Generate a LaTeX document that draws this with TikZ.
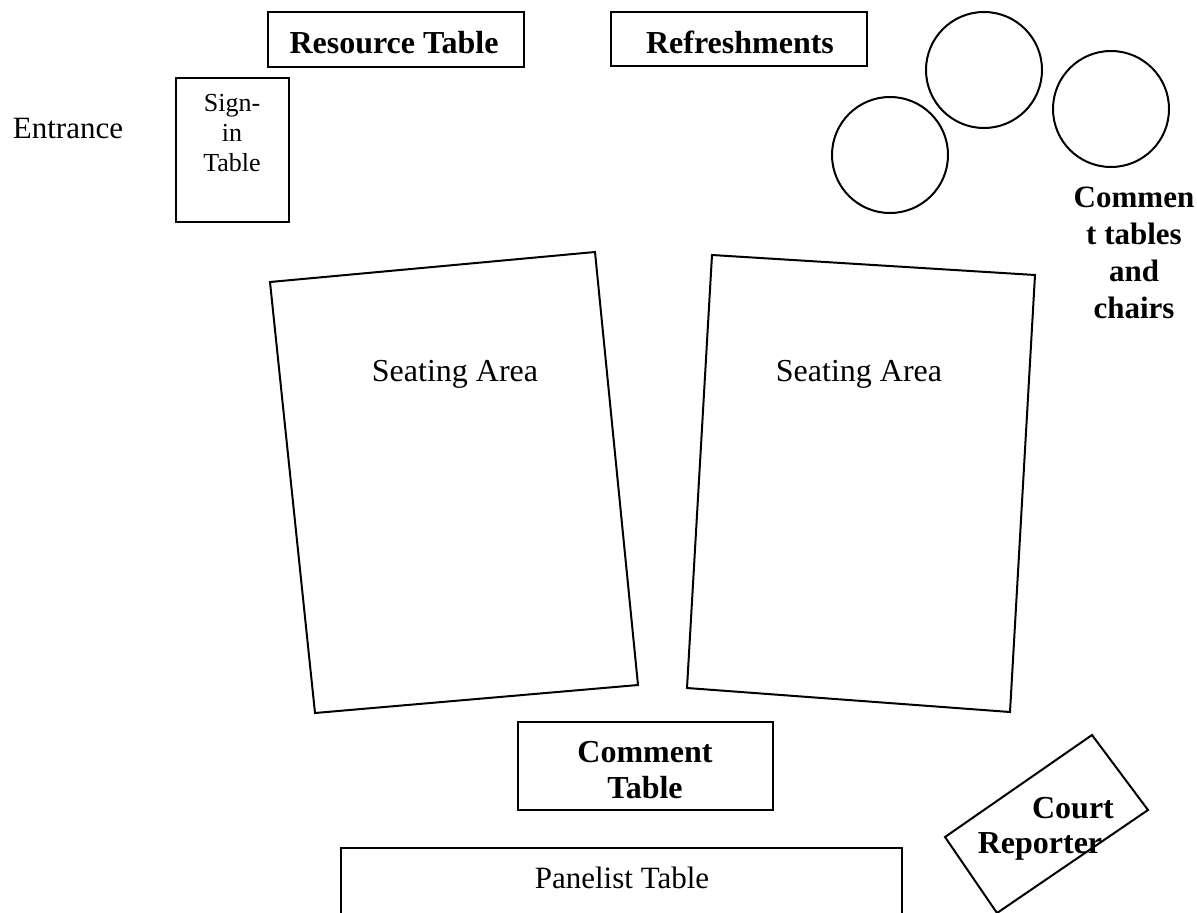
\documentclass[tikz,border=0pt]{standalone}
\usepackage{fontspec}
\setmainfont{Liberation Serif}
\begin{document}
\begin{tikzpicture}[x=1pt,y=-1pt,
  wall/.style={draw=black, line width=2pt, line join=miter},
  plain/.style={inner sep=0pt, font=\fontsize{31}{37}\selectfont},
  heavy/.style={inner sep=0pt, font=\fontsize{32}{40}\selectfont\bfseries},
  small/.style={inner sep=0pt, align=center, font=\fontsize{26}{30}\selectfont}]
\useasboundingbox (0,0) rectangle (1197,913);
\fill[white] (0,0) rectangle (1197,913);

% Entrance
\node[plain, anchor=base] (entrance) at (68,138) {Entrance};

% Sign-in table
\draw[wall] (176,78) rectangle (289,222);
\node[small, anchor=north] (signin) at (232,94) {Sign-\\in\\Table};

% Resource table
\draw[wall] (268,12) rectangle (524,67);
\node[heavy, anchor=base] (resource) at (394,53) {Resource Table};

% Refreshments
\draw[wall] (611,12) rectangle (867,66);
\node[heavy, anchor=base] (refresh) at (740,53) {Refreshments};

% Comment tables (circles)
\draw[wall] (890,155) circle[radius=58];
\draw[wall] (984,70) circle[radius=58];
\draw[wall] (1111,109) circle[radius=58];
\node[heavy, align=center, anchor=north, font=\fontsize{31}{37}\selectfont\bfseries] (ctables) at (1134,187) {Commen\\t tables\\and\\chairs};

% Seating areas
\draw[wall] (270,282) -- (595,252) -- (638,685) -- (315,713) -- cycle;
\node[plain, anchor=base, font=\fontsize{32}{38}\selectfont] (seatL) at (455,381) {Seating Area};
\draw[wall] (712,255) -- (1035,275) -- (1010,712) -- (687,688) -- cycle;
\node[plain, anchor=base, font=\fontsize{32}{38}\selectfont] (seatR) at (859,381) {Seating Area};

% Comment table
\draw[wall] (518,722) rectangle (773,810);
\node[heavy, align=center, anchor=north, font=\fontsize{32}{36}\selectfont\bfseries] (ctable) at (645,741) {Comment\\Table};

% Panelist table
\draw[wall] (341,913) -- (341,848) -- (902,848) -- (902,913);
\node[plain, anchor=base] (panel) at (622,888) {Panelist Table};

% Court reporter
\draw[wall] (945,837) -- (1092,735) -- (1148,810) -- (997,913) -- cycle;
\node[heavy, anchor=base] (court) at (1073,818) {Court};
\node[heavy, anchor=base] (reporter) at (1040,853) {Reporter};
\end{tikzpicture}
\end{document}
